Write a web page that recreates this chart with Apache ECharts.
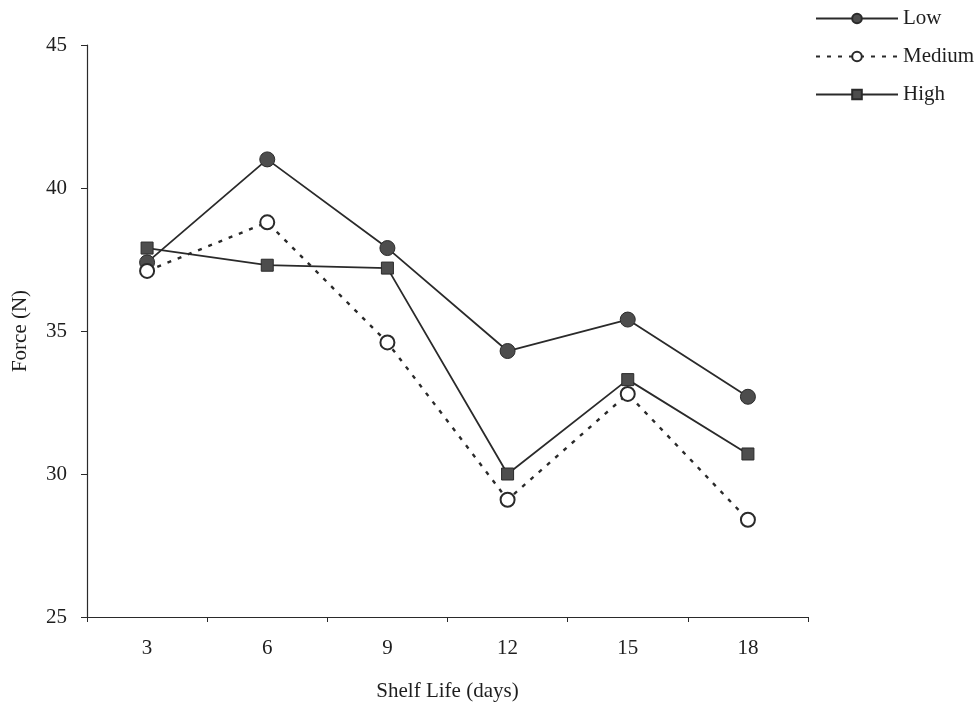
<!DOCTYPE html>
<html>
<head>
<meta charset="utf-8">
<script src="https://cdn.jsdelivr.net/npm/echarts@6/dist/echarts.min.js"></script>
<style>
  html, body { margin: 0; padding: 0; background: #fff; }
  #chart { width: 978px; height: 705px; }
</style>
</head>
<body>
<div id="chart"></div>
<script>
// Shelf life (days) on the x axis, force (N) on the y axis
const days = ['3', '6', '9', '12', '15', '18'];
const lowForce = [37.4, 41.0, 37.9, 34.3, 35.4, 32.7];
const mediumForce = [37.1, 38.8, 34.6, 29.1, 32.8, 28.4];
const highForce = [37.9, 37.3, 37.2, 30.0, 33.3, 30.7];
const yTicks = [25, 30, 35, 40, 45];

const ink = '#2a2a2a';
const fillDark = '#4d4d4d';
const textInk = '#1e1e1e';
const serif = 'Liberation Serif';

const chart = echarts.init(document.getElementById('chart'), null, { renderer: 'canvas' });

chart.setOption({
  backgroundColor: '#ffffff',
  animation: false,
  textStyle: { fontFamily: serif, color: textInk },
  grid: { left: 87, right: 170, top: 45, bottom: 88, containLabel: false, outerBoundsMode: 'none' },
  legend: {
    orient: 'vertical',
    left: 810,
    top: 3,
    itemWidth: 82,
    itemHeight: 12,
    itemGap: 17,
    textStyle: { fontFamily: serif, fontSize: 21, color: textInk, lineHeight: 20 },
    data: ['Low', 'Medium', 'High']
  },
  xAxis: {
    type: 'category',
    data: days,
    boundaryGap: true,
    name: 'Shelf Life (days)',
    nameLocation: 'middle',
    nameGap: 64,
    nameTextStyle: { fontFamily: serif, fontSize: 21, color: textInk },
    axisLine: { lineStyle: { color: ink, width: 1.2 } },
    axisTick: { show: true, inside: false, length: 5, lineStyle: { color: ink } },
    axisLabel: { fontFamily: serif, fontSize: 21, color: textInk, margin: 21 },
    splitLine: { show: false }
  },
  yAxis: {
    type: 'value',
    min: yTicks[0],
    max: yTicks[yTicks.length - 1],
    interval: 5,
    name: 'Force (N)',
    nameLocation: 'middle',
    nameRotate: 90,
    nameGap: 56,
    nameTextStyle: { fontFamily: serif, fontSize: 21, color: textInk },
    axisLine: { show: true, lineStyle: { color: ink, width: 1.2 } },
    axisTick: { show: true, inside: false, length: 6, lineStyle: { color: ink } },
    axisLabel: { fontFamily: serif, fontSize: 21, color: textInk, margin: 20 },
    splitLine: { show: false }
  },
  series: [
    {
      name: 'Low',
      type: 'line',
      data: lowForce,
      symbol: 'circle',
      symbolSize: 15,
      lineStyle: { color: ink, width: 1.8, type: 'solid' },
      itemStyle: { color: fillDark, borderColor: ink, borderWidth: 1 },
      z: 2
    },
    {
      name: 'Medium',
      type: 'line',
      data: mediumForce,
      symbol: 'circle',
      symbolSize: 14,
      lineStyle: { color: ink, width: 2.4, type: [4, 7] },
      itemStyle: { color: '#ffffff', borderColor: ink, borderWidth: 2 },
      z: 3
    },
    {
      name: 'High',
      type: 'line',
      data: highForce,
      symbol: 'rect',
      symbolSize: 12,
      lineStyle: { color: ink, width: 1.8, type: 'solid' },
      itemStyle: { color: fillDark, borderColor: ink, borderWidth: 1 },
      z: 4
    }
  ]
});
</script>
</body>
</html>
